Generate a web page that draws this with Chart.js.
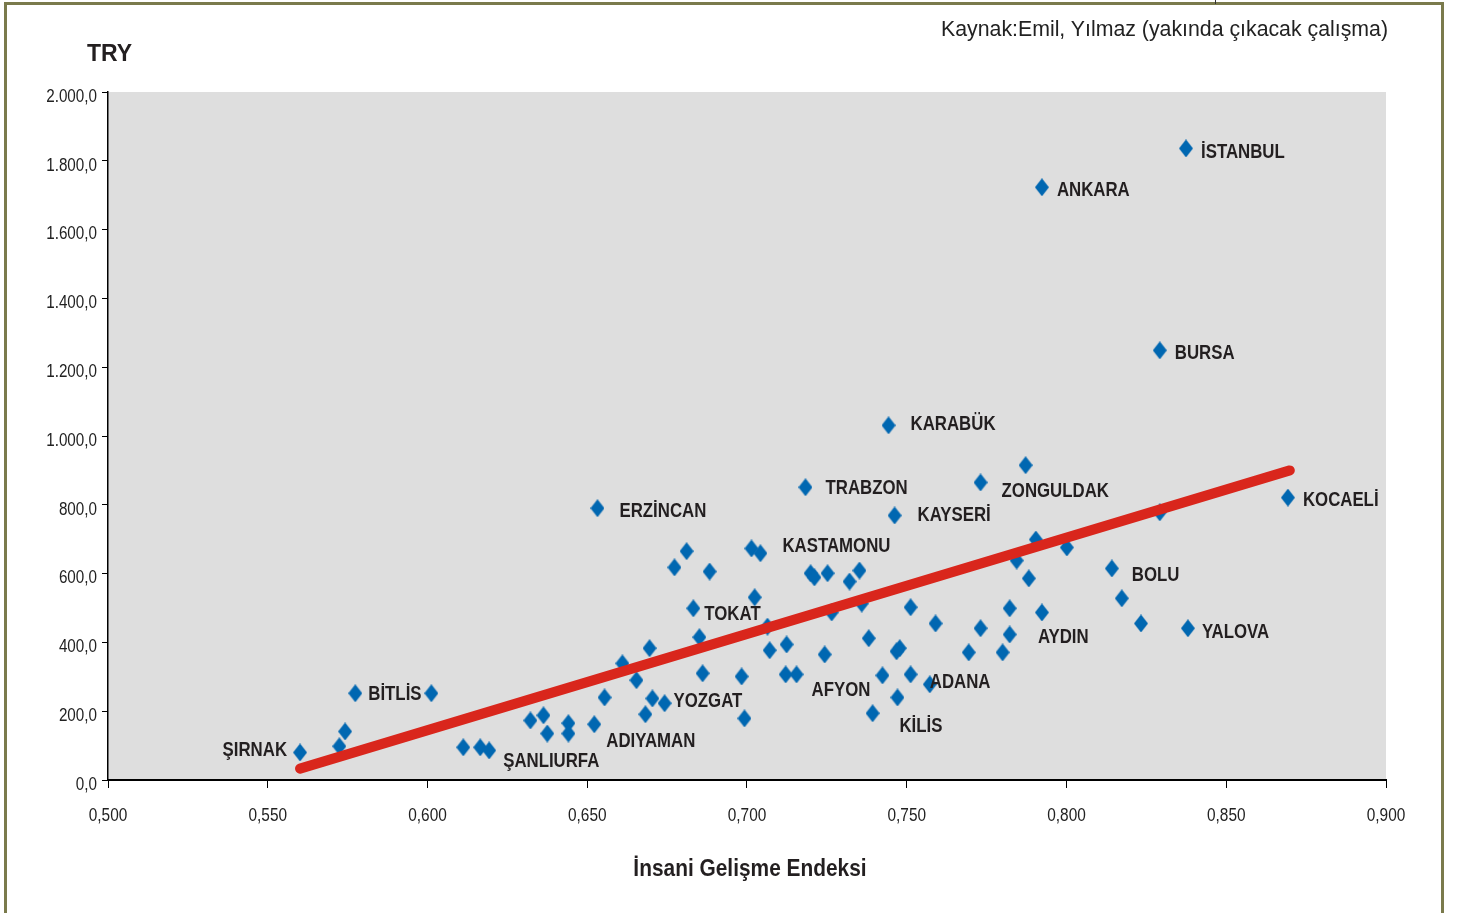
<!DOCTYPE html>
<html lang="tr">
<head>
<meta charset="utf-8">
<title>İnsani Gelişme Endeksi - TRY</title>
<script src="https://cdn.jsdelivr.net/npm/chart.js@4.4.1/dist/chart.umd.min.js"></script>
<style>
  html, body { margin: 0; padding: 0; background: #fff; }
  #wrap { position: relative; width: 1460px; height: 913px; overflow: hidden; font-family: "Liberation Sans", Arial, sans-serif; }
  #frame { position: absolute; left: 4px; top: 2px; width: 1434px; height: 1000px; border: 3px solid #7a7a4c; }
  #notch { position: absolute; left: 1215px; top: 0; width: 1px; height: 4px; background: #333; }
  canvas { position: absolute; left: 0; top: 0; }
  .txt { position: absolute; color: #231f20; white-space: nowrap; }
  #yTitle { left: 87px; top: 40px; font-weight: bold; font-size: 23px; line-height: 26px; }
  #source { right: 72px; top: 16px; font-size: 21.3px; line-height: 26px; color: #222; }
  #xTitle { left: 750px; top: 853px; font-weight: bold; font-size: 24px; line-height: 30px;
            transform: translateX(-50%) scaleX(0.87); }
</style>
</head>
<body>
<div id="wrap">
  <div id="frame"></div>
  <div id="notch"></div>
  <canvas id="chart" width="1460" height="913"></canvas>
  <div class="txt" id="yTitle">TRY</div>
  <div class="txt" id="source">Kaynak:Emil, Yılmaz (yakında çıkacak çalışma)</div>
  <div class="txt" id="xTitle">İnsani Gelişme Endeksi</div>
</div>
<script>
// İnsani Gelişme Endeksi (x) and value in TRY (y)
const hdi = [
  0.5601, 0.5724, 0.5742, 0.5774, 0.6012, 0.6112, 0.6165, 0.6193, 0.6322, 0.6363,
  0.6375, 0.6441, 0.6441, 0.6522, 0.6554, 0.6532, 0.6610, 0.6654, 0.6695, 0.6682,
  0.6704, 0.6742, 0.6773, 0.6811, 0.6832, 0.6851, 0.6883, 0.6861, 0.6983, 0.6992,
  0.7014, 0.7042, 0.7024, 0.7064, 0.7071, 0.7124, 0.7121, 0.7155, 0.7183, 0.7199,
  0.7211, 0.7252, 0.7265, 0.7243, 0.7321, 0.7352, 0.7359, 0.7381, 0.7424, 0.7443,
  0.7462, 0.7393, 0.7468, 0.7478, 0.7471, 0.7512, 0.7512, 0.7590, 0.7572, 0.7694,
  0.7731, 0.7731, 0.7800, 0.7822, 0.7822, 0.7872, 0.7844, 0.7882, 0.7904, 0.7923,
  0.8001, 0.7923, 0.8142, 0.8173, 0.8233, 0.8292, 0.8292, 0.8380, 0.8374, 0.8693
];
const tryValue = [
  80, 98, 141, 252, 252, 95, 95, 86, 173, 188,
  135, 165, 135, 162, 240, 790, 339, 290, 383, 191,
  237, 223, 618, 665, 499, 415, 606, 310, 301, 179,
  673, 659, 531, 446, 377, 394, 307, 307, 851, 601,
  589, 601, 487, 365, 577, 609, 513, 412, 304, 1031,
  769, 194, 374, 383, 240, 502, 307, 455, 278, 371,
  865, 441, 371, 499, 423, 915, 638, 586, 699, 487,
  676, 1723, 615, 528, 455, 778, 1249, 441, 1836, 821
];
const cityNames = [
  'ŞIRNAK', '', '', 'BİTLİS', '', '', '', 'ŞANLIURFA', '', '',
  '', '', '', 'ADIYAMAN', '', 'ERZİNCAN', '', '', '', '',
  '', 'YOZGAT', '', '', 'TOKAT', '', '', '', '', '',
  '', 'KASTAMONU', '', '', '', '', '', 'AFYON', 'TRABZON', '',
  '', '', '', '', '', '', '', '', '', 'KARABÜK',
  'KAYSERİ', '', '', '', 'KİLİS', '', '', '', 'ADANA', '',
  'ZONGULDAK', '', '', '', '', '', '', '', '', 'AYDIN',
  '', 'ANKARA', 'BOLU', '', '', '', 'BURSA', 'YALOVA', 'İSTANBUL', 'KOCAELİ'
];
// trend line end points
const trendX = [0.5601, 0.8699];
const trendY = [33, 900];

const xMin = 0.5, xMax = 0.9, xStep = 0.05;
const yMin = 0, yMax = 2000, yStep = 200;

const BLUE = '#0067b1';
const RED = '#d9261c';
const INK = '#231f20';
const TICK_INK = '#222';

// label offsets from the point centre: [dx, dy, align]
const labelPos = {
  'ŞIRNAK': [-13, -2, 'right'], 'BİTLİS': [13, 1], 'ŞANLIURFA': [14, 11], 'ADIYAMAN': [12, 17],
  'ERZİNCAN': [22, 3], 'YOZGAT': [9, -2], 'TOKAT': [11, 6], 'KASTAMONU': [22, -7],
  'AFYON': [15, 16], 'TRABZON': [20, 1], 'KARABÜK': [22, -1], 'KAYSERİ': [23, 0],
  'KİLİS': [2, 29], 'ADANA': [0, -2], 'ZONGULDAK': [21, 9], 'AYDIN': [-4, 25],
  'ANKARA': [15, 3], 'İSTANBUL': [15, 4], 'BURSA': [15, 3], 'BOLU': [20, 7],
  'YALOVA': [14, 4], 'KOCAELİ': [15, 3]
};

// diamond marker, a little taller than wide
function makeDiamond(w, h, color) {
  const c = document.createElement('canvas');
  c.width = w; c.height = h;
  const g = c.getContext('2d');
  g.fillStyle = color;
  g.beginPath();
  g.moveTo(w / 2, 0);
  g.lineTo(w, h / 2);
  g.lineTo(w / 2, h);
  g.lineTo(0, h / 2);
  g.closePath();
  g.fill();
  return c;
}
const diamond = makeDiamond(14, 18, BLUE);

function fmtY(v) {
  return Math.round(v).toString().replace(/\B(?=(\d{3})+(?!\d))/g, '.') + ',0';
}

const plotBg = {
  id: 'plotBg',
  beforeDraw(chart) {
    const { ctx, chartArea: a } = chart;
    ctx.save();
    ctx.fillStyle = '#dedede';
    ctx.fillRect(a.left, a.top, a.right - a.left, a.bottom - a.top);
    ctx.restore();
  }
};

// narrow tick labels, as in the original (labels sit a bit below the y ticks)
const tickLabels = {
  id: 'tickLabels',
  afterDraw(chart) {
    const { ctx } = chart;
    const xs = chart.scales.x, ys = chart.scales.y;
    ctx.save();
    ctx.fillStyle = TICK_INK;
    ctx.textBaseline = 'middle';

    ctx.font = '18.8px "Liberation Sans", Arial, sans-serif';
    ctx.textAlign = 'center';
    xs.ticks.forEach(t => {
      ctx.save();
      ctx.translate(xs.getPixelForValue(t.value), xs.top + 36);
      ctx.scale(0.82, 1);
      ctx.fillText(t.value.toFixed(3).replace('.', ','), 0, 0);
      ctx.restore();
    });

    ctx.font = '17.5px "Liberation Sans", Arial, sans-serif';
    ctx.textAlign = 'right';
    ys.ticks.forEach(t => {
      ctx.save();
      ctx.translate(ys.right - 11, ys.getPixelForValue(t.value) + 5);
      ctx.scale(0.87, 1);
      ctx.fillText(fmtY(t.value), 0, 0);
      ctx.restore();
    });
    ctx.restore();
  }
};

// city names next to their points
const cityLabels = {
  id: 'cityLabels',
  afterDatasetsDraw(chart) {
    const { ctx } = chart;
    const meta = chart.getDatasetMeta(1);
    ctx.save();
    ctx.fillStyle = INK;
    ctx.font = 'bold 20.5px "Liberation Sans", Arial, sans-serif';
    ctx.textBaseline = 'middle';
    meta.data.forEach((pt, i) => {
      const name = cityNames[i];
      if (!name) return;
      const [dx, dy, align] = labelPos[name] || [15, 3];
      ctx.save();
      ctx.translate(pt.x + dx, pt.y + dy);
      ctx.scale(0.82, 1);
      ctx.textAlign = align || 'left';
      ctx.fillText(name, 0, 0);
      ctx.restore();
    });
    ctx.restore();
  }
};

new Chart(document.getElementById('chart'), {
  type: 'scatter',
  data: {
    datasets: [
      {
        type: 'line',
        label: 'Trend',
        data: trendX.map((x, i) => ({ x, y: trendY[i] })),
        borderColor: RED,
        borderWidth: 10,
        borderCapStyle: 'round',
        pointRadius: 0,
        fill: false,
        order: 0
      },
      {
        label: 'İller',
        data: hdi.map((x, i) => ({ x, y: tryValue[i] })),
        pointStyle: diamond,
        pointRadius: 7,
        order: 1
      }
    ]
  },
  options: {
    responsive: false,
    animation: false,
    layout: { padding: { top: 92, right: 74, left: 0, bottom: 0 } },
    plugins: {
      legend: { display: false },
      tooltip: { enabled: false }
    },
    scales: {
      x: {
        type: 'linear',
        min: xMin,
        max: xMax,
        ticks: { stepSize: xStep, display: false },
        grid: { drawOnChartArea: false, drawTicks: true, tickLength: 8, color: '#000', lineWidth: 1 },
        border: { display: true, color: '#000', width: 2 },
        afterFit(scale) { scale.height = 133; }
      },
      y: {
        type: 'linear',
        min: yMin,
        max: yMax,
        ticks: { stepSize: yStep, display: false },
        grid: { drawOnChartArea: false, drawTicks: true, tickLength: 6, color: '#000', lineWidth: 1 },
        border: { display: true, color: '#000', width: 1.5 },
        afterFit(scale) { scale.width = 108; }
      }
    }
  },
  plugins: [plotBg, tickLabels, cityLabels]
});
</script>
</body>
</html>
